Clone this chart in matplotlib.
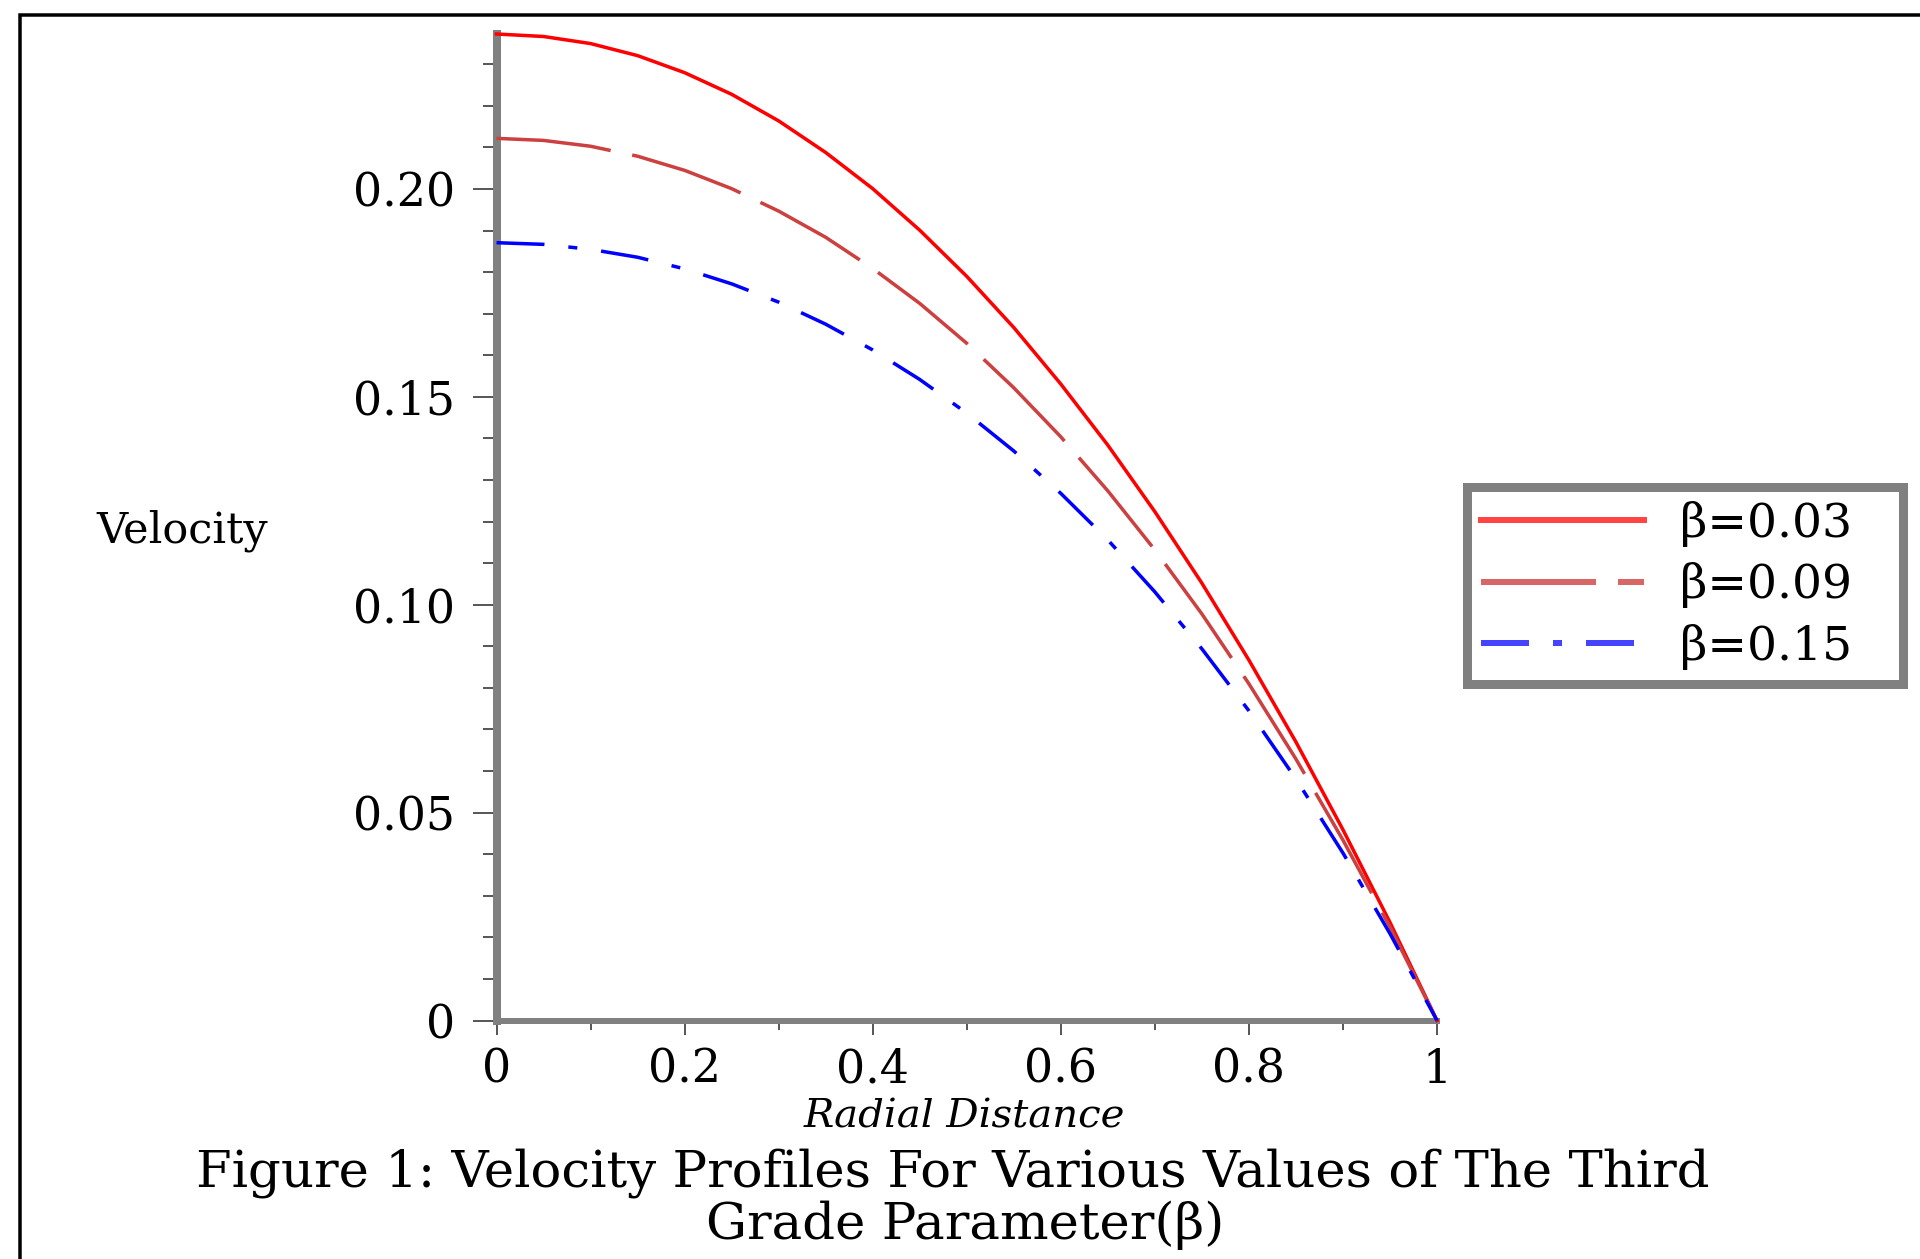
import matplotlib
matplotlib.use("Agg")
import matplotlib.pyplot as plt
from matplotlib.lines import Line2D
from matplotlib.ticker import FixedLocator, MultipleLocator

# ---------------- data ----------------
radial = [0.00, 0.05, 0.10, 0.15, 0.20, 0.25, 0.30, 0.35, 0.40, 0.45, 0.50,
          0.55, 0.60, 0.65, 0.70, 0.75, 0.80, 0.85, 0.90, 0.95, 1.00]
vel_beta_003 = [0.2373, 0.2367, 0.2350, 0.2321, 0.2280, 0.2228, 0.2164, 0.2088,
                0.2001, 0.1901, 0.1790, 0.1667, 0.1531, 0.1384, 0.1224, 0.1052,
                0.0867, 0.0670, 0.0459, 0.0236, 0.0]
vel_beta_009 = [0.2122, 0.2117, 0.2103, 0.2079, 0.2045, 0.2001, 0.1947, 0.1884,
                0.1809, 0.1725, 0.1629, 0.1522, 0.1404, 0.1274, 0.1132, 0.0978,
                0.0810, 0.0629, 0.0434, 0.0225, 0.0]
vel_beta_015 = [0.1871, 0.1867, 0.1855, 0.1836, 0.1808, 0.1772, 0.1728, 0.1675,
                0.1613, 0.1542, 0.1461, 0.1370, 0.1268, 0.1156, 0.1031, 0.0894,
                0.0745, 0.0581, 0.0403, 0.0209, 0.0]
series_labels = ["β=0.03", "β=0.09", "β=0.15"]

x_tick_values = [0.0, 0.2, 0.4, 0.6, 0.8, 1.0]
x_tick_labels = ["0", "0.2", "0.4", "0.6", "0.8", "1"]
y_tick_values = [0.0, 0.05, 0.10, 0.15, 0.20]
y_tick_labels = ["0", "0.05", "0.10", "0.15", "0.20"]

x_label = "Radial Distance"
y_label = "Velocity"
caption_line1 = "Figure 1: Velocity Profiles For Various Values of The Third"
caption_line2 = "Grade Parameter(β)"

# ---------------- styling ----------------
W, H, DPI = 1920, 1259, 100
PT = 72.0 / DPI          # points per pixel
plt.rcParams["font.family"] = ["DejaVu Serif"]
plt.rcParams["lines.scale_dashes"] = False

line_colors = ["#ff0000", "#cd4040", "#0000ff"]
legend_colors = ["#ff4444", "#d96666", "#4444ff"]
dash_styles = ["-",
               (0, (115 * PT, 22 * PT)),
               (0, (48 * PT, 24 * PT, 9 * PT, 24 * PT))]
series = [vel_beta_003, vel_beta_009, vel_beta_015]

fig = plt.figure(figsize=(W / DPI, H / DPI), dpi=DPI)
fig.patch.set_facecolor("white")

ax_left, ax_right, ax_top, ax_bottom = 496.5, 1437.0, 34.0, 1020.5
ax = fig.add_axes([ax_left / W, 1 - ax_bottom / H,
                   (ax_right - ax_left) / W, (ax_bottom - ax_top) / H])

for yv, col, ls in zip(series, line_colors, dash_styles):
    ax.plot(radial, yv, color=col, lw=3.5 * PT, linestyle=ls,
            zorder=3, clip_on=False, dash_capstyle="butt")

ax.set_xlim(0, 1.0)
ax.set_ylim(0, 0.2373)

for s in ("top", "right"):
    ax.spines[s].set_visible(False)
ax.spines["left"].set_color("#808080")
ax.spines["left"].set_linewidth(8 * PT)
ax.spines["bottom"].set_color("#808080")
ax.spines["bottom"].set_linewidth(6 * PT)

ax.xaxis.set_major_locator(FixedLocator(x_tick_values))
ax.set_xticklabels(x_tick_labels)
ax.xaxis.set_minor_locator(MultipleLocator(0.1))
ax.yaxis.set_major_locator(FixedLocator(y_tick_values))
ax.set_yticklabels(y_tick_labels)
ax.yaxis.set_minor_locator(MultipleLocator(0.01))

tick_fs = 33
ax.tick_params(axis="y", which="major", direction="out", length=24 * PT,
               width=1.6 * PT, color="#303030", pad=17.5 * PT, labelsize=tick_fs)
ax.tick_params(axis="y", which="minor", direction="out", length=14 * PT,
               width=1.6 * PT, color="#303030")
ax.tick_params(axis="x", which="major", direction="out", length=14 * PT,
               width=1.6 * PT, color="#303030", pad=13 * PT, labelsize=tick_fs)
ax.tick_params(axis="x", which="minor", direction="out", length=9 * PT,
               width=1.6 * PT, color="#303030")

ax.set_xlabel(x_label, fontsize=29, style="italic", va="baseline")
ax.xaxis.set_label_coords((964 - ax_left) / (ax_right - ax_left),
                          (ax_bottom - 1127) / (ax_bottom - ax_top))
ax.set_ylabel(y_label, fontsize=31, rotation=0, ha="center", va="baseline")
ax.yaxis.set_label_coords((182 - ax_left) / (ax_right - ax_left),
                          (ax_bottom - 542) / (ax_bottom - ax_top))

# legend
handles = [Line2D([], [], color=c, lw=6 * PT, linestyle=ls, dash_capstyle="butt")
           for c, ls in zip(legend_colors, dash_styles)]
leg_fs = 34
leg_fs_px = leg_fs / PT
leg_x0, leg_y0, leg_x1, leg_y1 = 1466.5, 486.5, 1902.5, 678.5
leg = ax.legend(handles, series_labels, loc="upper left",
                bbox_to_anchor=(leg_x0 / W, 1 - leg_y1 / H,
                                (leg_x1 - leg_x0) / W, (leg_y1 - leg_y0) / H),
                bbox_transform=fig.transFigure, borderaxespad=0, mode="expand",
                frameon=True, fancybox=False, framealpha=1,
                edgecolor="#808080", fontsize=leg_fs,
                handlelength=163 / leg_fs_px, handletextpad=36 / leg_fs_px,
                borderpad=0.3, labelspacing=0.33)
leg.get_frame().set_linewidth(9 * PT)

# caption
fig.text(953 / W, 1 - 1187 / H, caption_line1, ha="center", va="baseline",
         fontsize=37)
fig.text(965 / W, 1 - 1239 / H, caption_line2, ha="center", va="baseline",
         fontsize=37)

# outer frame (only top and left edges are within the picture)
fig.add_artist(Line2D([19.5 / W, 19.5 / W, 1.0], [0.0, 1 - 15.3 / H, 1 - 15.3 / H],
                      transform=fig.transFigure, color="black", lw=3.5 * PT,
                      solid_joinstyle="miter"))

fig.savefig("out.png", dpi=DPI, facecolor="white")
